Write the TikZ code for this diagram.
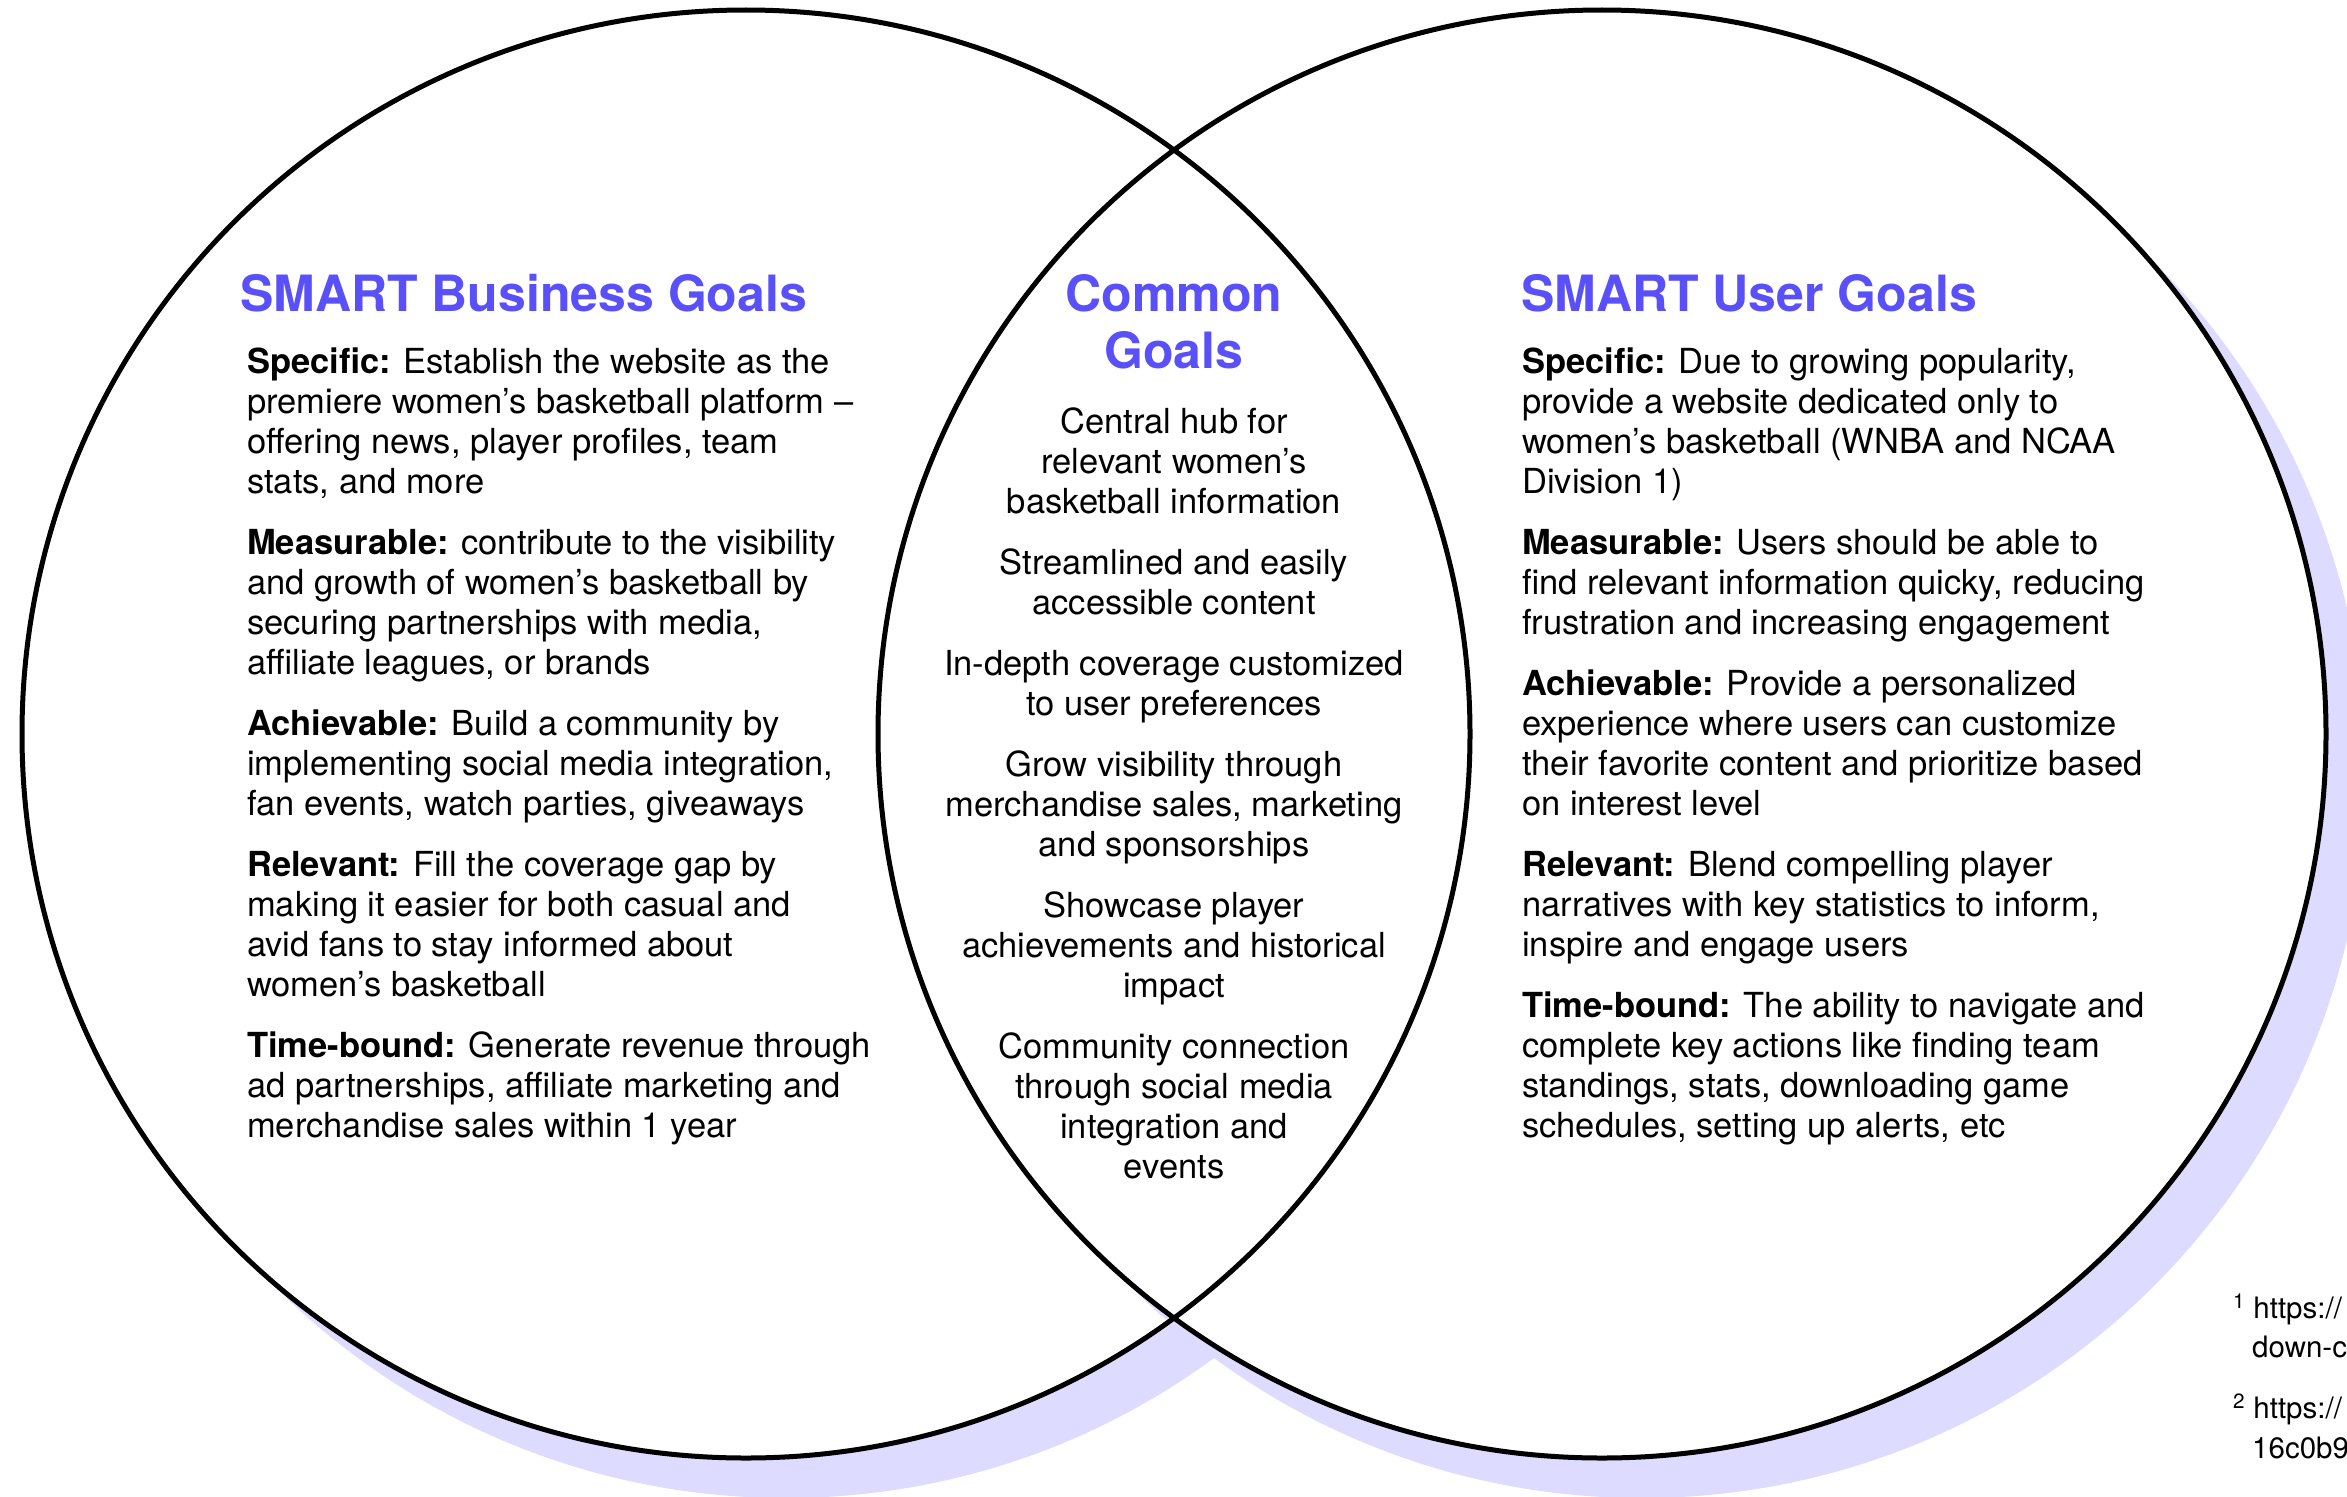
\documentclass[tikz,border=0pt]{standalone}
\usepackage{fontspec}
\setmainfont{TeX Gyre Heros}
\definecolor{venntitle}{RGB}{90,80,250}
\definecolor{vennshadow}{RGB}{221,219,255}

\begin{document}
\begin{tikzpicture}[x=1pt,y=-1pt,
  ring/.style={draw=black,line width=5pt},
  halo/.style={fill=vennshadow,draw=none},
  heading/.style={text=venntitle,font=\fontsize{50}{57}\selectfont\bfseries,inner sep=0pt},
  body/.style={font=\fontsize{34.5}{40}\selectfont,inner sep=0pt},
  foot/.style={font=\fontsize{29.5}{39}\selectfont,inner sep=0pt,anchor=base west}
]
\useasboundingbox (0,0) rectangle (2347,1496);
\fill[white] (0,0) rectangle (2347,1496);

% soft lavender drop shadows and white discs of the two sets
\fill[halo]  (786,774)  circle[radius=724pt];
\fill[white] (746,734)  circle[radius=724pt];
\fill[halo]  (1642,774) circle[radius=724pt];
\fill[white] (1602,734) circle[radius=724pt];

% outlines
\draw[ring] (746,734)  circle[radius=724pt];
\draw[ring] (1602,734) circle[radius=724pt];

% headings (multi-line nodes sit on the baseline of their last line)
\node[heading,anchor=base west] (tBiz) at (240,311) {SMART Business Goals};
\node[heading,anchor=base,align=center] (tCommon) at (1174,368) {Common\\Goals};
\node[heading,anchor=base west] (tUser) at (1521,311) {SMART User Goals};

% business goals
\node[body,anchor=base west,align=left] (bizText) at (247,1137) {%
\textbf{Specific:} Establish the website as the\\
premiere women’s basketball platform –\\
offering news, player profiles, team\\
stats, and more\\[21pt]
\textbf{Measurable:} contribute to the visibility\\
and growth of women’s basketball by\\
securing partnerships with media,\\
affiliate leagues, or brands\\[21pt]
\textbf{Achievable:} Build a community by\\
implementing social media integration,\\
fan events, watch parties, giveaways\\[21pt]
\textbf{Relevant:} Fill the coverage gap by\\
making it easier for both casual and\\
avid fans to stay informed about\\
women’s basketball\\[21pt]
\textbf{Time-bound:} Generate revenue through\\
ad partnerships, affiliate marketing and\\
merchandise sales within 1 year};

% common goals
\node[body,anchor=base,align=center] (commonText) at (1174,1178) {%
Central hub for\\
relevant women’s\\
basketball information\\[21pt]
Streamlined and easily\\
accessible content\\[21pt]
In-depth coverage customized\\
to user preferences\\[21pt]
Grow visibility through\\
merchandise sales, marketing\\
and sponsorships\\[21pt]
Showcase player\\
achievements and historical\\
impact\\[21pt]
Community connection\\
through social media\\
integration and\\
events};

% user goals
\node[body,anchor=base west,align=left] (userText) at (1522,1137) {%
\textbf{Specific:} Due to growing popularity,\\
provide a website dedicated only to\\
women’s basketball (WNBA and NCAA\\
Division 1)\\[21pt]
\textbf{Measurable:} Users should be able to\\
find relevant information quicky, reducing\\
frustration and increasing engagement\\[21pt]
\textbf{Achievable:} Provide a personalized\\
experience where users can customize\\
their favorite content and prioritize based\\
on interest level\\[21pt]
\textbf{Relevant:} Blend compelling player\\
narratives with key statistics to inform,\\
inspire and engage users\\[21pt]
\textbf{Time-bound:} The ability to navigate and\\
complete key actions like finding team\\
standings, stats, downloading game\\
schedules, setting up alerts, etc};

% footnotes running off the right edge
\node[foot] (fnA) at (2233,1318) {\textsuperscript{1} https://};
\node[foot] (fnAb) at (2252,1357) {down-c};
\node[foot] (fnB) at (2233,1418) {\textsuperscript{2} https://};
\node[foot] (fnBb) at (2252,1458) {16c0b9};
\end{tikzpicture}
\end{document}
